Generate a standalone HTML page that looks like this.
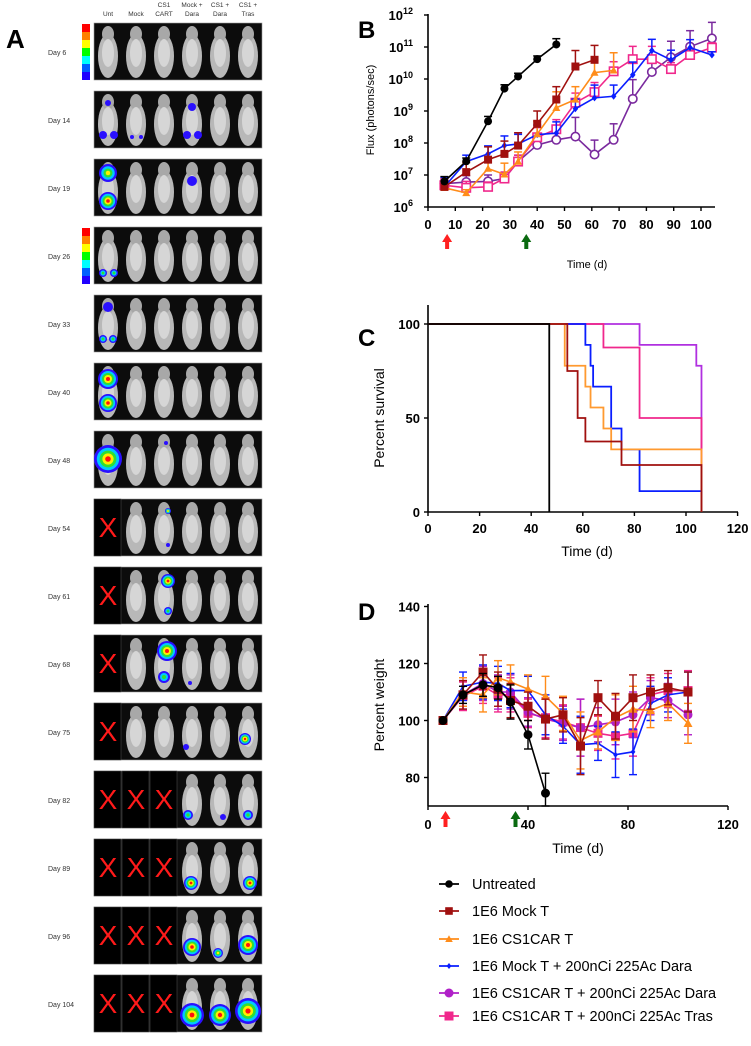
<!DOCTYPE html>
<html><head><meta charset="utf-8"><style>
html,body{margin:0;padding:0;background:#fff;}
svg{display:block;font-family:"Liberation Sans",Arial,sans-serif;}
</style></head><body>
<svg id="fig" width="751" height="1046" viewBox="0 0 751 1046" xmlns="http://www.w3.org/2000/svg">
<rect width="751" height="1046" fill="#fff"/>
<g id="panelA"></g>
<g id="panelB"></g>
<g id="panelC"></g>
<g id="panelD"></g>
<g id="legend"></g>
</svg>
<script>
// ---------- data ----------
const days = [6,14,22,28,33,40,47,54,61,68,75,82,89,96,104];
const seriesNames = ["Untreated","1E6 Mock T","1E6 CS1CAR T","1E6 Mock T + 200nCi 225Ac Dara","1E6 CS1CAR T + 200nCi 225Ac Dara","1E6 CS1CAR T + 200nCi 225Ac Tras"];
// Panel B: log10 flux
const fluxUntreated = [6.8,7.43,8.68,9.7,10.08,10.62,11.08];
const fluxMock = [6.63,7.09,7.48,7.66,7.92,8.6,9.36,10.39,10.6];
const fluxCar = [6.6,6.44,7.2,7.02,7.42,8.28,9.1,9.36,10.2,10.27];
const fluxMockDara = [6.63,7.42,7.66,7.92,7.97,8.26,8.31,9.07,9.41,9.46,10.13,10.89,10.6,10.98,10.75];
const fluxCarDara = [6.73,6.78,6.8,6.89,7.42,7.94,8.1,8.2,7.64,8.1,9.38,10.22,10.68,11.01,11.27];
const fluxCarTras = [6.68,6.6,6.63,6.89,7.42,8.18,8.43,9.26,9.59,10.24,10.62,10.62,10.31,10.75,10.98];
const fluxErrUntreated = [0.15,0.1,0.15,0.12,0.1,0.1,0.18];
const fluxErrMock = [0.2,0.3,0.4,0.4,0.4,0.4,0.4,0.5,0.45];
const fluxErrCar = [0.2,0.1,0.3,0.35,0.3,0.4,0.5,0.4,0.4,0.55];
const fluxErrMockDara = [0.3,0.2,0.25,0.3,0.3,0.3,0.35,0.3,0.4,0.35,0.4,0.35,0.3,0.25,0.1];
const fluxErrCarDara = [0.15,0.2,0.2,0.2,0.2,0.25,0.3,0.6,0.45,0.5,0.6,0.4,0.5,0.5,0.5];
const fluxErrCarTras = [0.2,0.2,0.15,0.2,0.2,0.3,0.3,0.3,0.3,0.3,0.4,0.4,0.2,0.2,0.15];
const bXTicks = [0,10,20,30,40,50,60,70,80,90,100];
const bYTicks = [6,7,8,9,10,11,12];
// Panel C: survival steps [day, percent]
const survUntreated = [[0,100],[47,100],[47,0]];
const survMock = [[0,100],[54,100],[54,75],[58,75],[58,50],[61,50],[61,37.5],[75,37.5],[75,25],[106,25],[106,0]];
const survCar = [[0,100],[53,100],[53,77.8],[61,77.8],[61,66.7],[63,66.7],[63,55.6],[68,55.6],[68,44.4],[71,44.4],[71,33.3],[106,33.3],[106,0]];
const survMockDara = [[0,100],[61,100],[61,88.9],[63,88.9],[63,77.8],[64,77.8],[64,66.7],[71,66.7],[71,44.4],[75,44.4],[75,33.3],[82,33.3],[82,11.1],[106,11.1],[106,0]];
const survCarDara = [[0,100],[82,100],[82,88.9],[104,88.9],[104,77.8],[106,77.8],[106,33.3]];
const survCarTras = [[0,100],[68,100],[68,87.5],[82,87.5],[82,50],[106,50],[106,0]];
const cXTicks = [0,20,40,60,80,100,120];
const cYTicks = [0,50,100];
// Panel D: percent weight
const wtUntreated = [100,109,112.5,111.5,106.5,95,74.5];
const wtMock = [100,109,117,111,107,105,100.5,102,91,108,101.5,108,110,111.5,110];
const wtCar = [100,110,109,115,113.5,111,108.5,102.5,93,96,101,104,103.5,106,99];
const wtMockDara = [100,112,113.5,113,110.5,110.5,102,98,91.5,92,88,89,106,109,110];
const wtCarDara = [100,109,113,110,110,103,100.5,99,97.5,98.5,99.5,102,108,107,102];
const wtCarTras = [100,108.5,112,109,109,102.5,101,99.5,97.5,95.5,94.5,95.5,109,110.5,110.5];
const wtErr = [0,5,6,6,6,5,7,6,10,6,8,8,6,6,7];
const wtErrUntreated = [0,3,4,4,6,5,7];
const dXTicks = [0,40,80,120];
const dYTicks = [80,100,120,140];

const NS="http://www.w3.org/2000/svg";
function mk(parent,tag,attrs,text){const e=document.createElementNS(NS,tag);for(const k in attrs)e.setAttribute(k,attrs[k]);if(text!==undefined)e.textContent=text;parent.appendChild(e);return e;}
const colors=["#000000","#a0100f","#ff8c1a","#0a1eff","#b020c8","#f0288c"];
const colorsB=["#000000","#a0100f","#ff8c1a","#0a1eff","#7a2a9e","#f0288c"];
const colorsC=["#000000","#a0100f","#ff9a30","#0a1eff","#b030e0","#f0288c"];
const markers=["circle","square","triangle","diamond","circle","square"];

function marker(g,type,x,y,r,col,open){
  let e;
  const fill=open?"#fff":col, sw=open?1.6:0;
  if(type==="circle") e=mk(g,"circle",{cx:x,cy:y,r:r,fill:fill,stroke:col,"stroke-width":sw});
  else if(type==="square") e=mk(g,"rect",{x:x-r,y:y-r,width:2*r,height:2*r,fill:fill,stroke:col,"stroke-width":sw});
  else if(type==="triangle") e=mk(g,"polygon",{points:`${x},${y-r} ${x+r},${y+r*0.8} ${x-r},${y+r*0.8}`,fill:fill});
  else e=mk(g,"polygon",{points:`${x},${y-r} ${x+r*0.8},${y} ${x},${y+r} ${x-r*0.8},${y}`,fill:fill});
  
  
  return e;
}

// ---------- Panel A ----------
(function(){
  const g=document.getElementById("panelA");
  mk(g,"text",{x:6,y:48,"font-size":26,"font-weight":"bold",},"A");
  const dayLabels=[6,14,19,26,33,40,48,54,61,68,75,82,89,96,104];
  const heads=[["Unt"],["Mock"],["CS1","CART"],["Mock +","Dara"],["CS1 +","Dara"],["CS1 +","Tras"]];
  const x0=94, cw=28, rh=57, top0=23, step=68;
  heads.forEach((h,i)=>{h.forEach((t,j)=>{mk(g,"text",{x:x0+cw*i+14,y:h.length===1?16:7+j*9,"font-size":6.5,"text-anchor":"middle",fill:"#333",},t);});});
  // X counts per row: number of dead columns from left
  const dead=[0,0,0,0,0,0,0,1,1,1,1,3,3,3,3];
  // heat spots: row, col, dx, dy, radius, intensity(1-4)
  const spots=[[1,0,-5,44,4,1],[1,0,6,44,4,1],[1,0,0,12,3,1],[1,3,0,16,4,1],[1,3,-5,44,4,1],[1,3,6,44,4,1],[1,1,-4,46,2,1],[1,1,5,46,2,1],
   [2,0,0,14,9,3],[2,0,0,42,9,4],[2,3,0,22,5,1],[3,0,-5,46,4,2],[3,0,6,46,4,2],[4,0,0,12,5,1],[4,0,-5,44,4,2],[4,0,5,44,4,2],
   [5,0,0,16,10,4],[5,0,0,40,9,4],[6,0,0,28,14,4],[6,2,2,12,2,1],[7,2,4,12,3,3],[7,2,4,46,2,1],[8,2,4,14,7,4],[8,2,4,44,4,2],
   [9,2,3,16,10,4],[9,2,0,42,6,2],[9,3,-2,48,2,1],[10,3,-6,44,3,1],[10,5,-3,36,6,4],[11,3,-4,44,5,2],[11,4,3,46,3,1],[11,5,0,44,5,2],
   [12,3,-1,44,7,4],[12,5,2,44,7,4],[13,3,0,40,9,4],[13,4,-2,46,5,3],[13,5,0,38,10,4],[14,3,0,40,12,4],[14,4,0,40,11,4],[14,5,0,36,13,4]];
  const heat=["#2a10ff","#00c8ff","#30e030","#ffee00","#ff1010"];
  dayLabels.forEach((d,r)=>{
    const t=top0+step*r;
    mk(g,"text",{x:48,y:t+32,"font-size":7,fill:"#333",},"Day "+d);
    const row=mk(g,"g",{});
    mk(row,"rect",{x:x0,y:t,width:cw*6,height:rh,fill:"#0c0c0c",stroke:"#999","stroke-width":0.6});
    for(let c=0;c<6;c++){
      const cx=x0+cw*c+14;
      if(c<dead[r]){
        mk(row,"rect",{x:x0+cw*c,y:t,width:cw-1,height:rh,fill:"#000",stroke:"#555","stroke-width":0.5});
        mk(row,"text",{x:cx,y:t+38,"font-size":28,fill:"#ff1a1a","text-anchor":"middle",},"X");
      } else {
        const m=mk(row,"g",{});
        mk(m,"ellipse",{cx:cx,cy:t+33,rx:10,ry:22,fill:"#b8b8b8"});
        mk(m,"ellipse",{cx:cx,cy:t+11,rx:6,ry:8,fill:"#a8a8a8"});
        mk(m,"ellipse",{cx:cx,cy:t+30,rx:6,ry:14,fill:"#d6d6d6"});
      }
    }
    spots.filter(s=>s[0]===r).forEach(s=>{
      const cx=x0+cw*s[1]+14+s[2], cy=t+s[3];
      for(let k=0;k<=s[5];k++){
        mk(row,"circle",{cx:cx,cy:cy,r:Math.max(1,s[4]*(1-k/(s[5]+1))),fill:heat[s[5]===1?0:k]});
      }
    });
  });
  // color bars
  [0,3].forEach(r=>{
    const t=top0+step*r;
    const grad=["#ff0000","#ff8000","#ffff00","#00ff00","#00ffff","#0060ff","#2000ff"];
    grad.forEach((c,i)=>mk(g,"rect",{x:82,y:t+1+i*8,width:8,height:8,fill:c,}));
  });
})();

// ---------- Panel B ----------
(function(){
  const g=document.getElementById("panelB");
  const xB=d=>428+2.73*d, yB=l=>207-32*(l-6);
  mk(g,"text",{x:358,y:38,"font-size":24,"font-weight":"bold",},"B");
  mk(g,"line",{x1:428,y1:14,x2:428,y2:207,stroke:"#000","stroke-width":1.6,});
  mk(g,"line",{x1:428,y1:207,x2:715,y2:207,stroke:"#000","stroke-width":1.6,});
  bYTicks.forEach(v=>{
    mk(g,"line",{x1:424,y1:yB(v),x2:428,y2:yB(v),stroke:"#000","stroke-width":1.4});
    const t=mk(g,"text",{x:413,y:yB(v)+5,"font-size":13,"font-weight":"bold","text-anchor":"end",},"10");
    mk(t,"tspan",{dy:-6,"font-size":9},String(v));
  });
  bXTicks.forEach(v=>{
    mk(g,"line",{x1:xB(v),y1:207,x2:xB(v),y2:211,stroke:"#000","stroke-width":1.4});
    mk(g,"text",{x:xB(v),y:229,"font-size":13,"font-weight":"bold","text-anchor":"middle",},String(v));
  });
  mk(g,"text",{x:374,y:110,"font-size":11,"text-anchor":"middle",transform:"rotate(-90 374 110)",},"Flux (photons/sec)");
  mk(g,"text",{x:587,y:268,"font-size":11,"text-anchor":"middle",},"Time (d)");
  // arrows
  [[7,"#ff2020","red-arrow"],[36,"#0a6a10","green-arrow"]].forEach(a=>{
    const x=xB(a[0]);
    mk(g,"polygon",{points:`${x},234 ${x+5},242 ${x+2},242 ${x+2},249 ${x-2},249 ${x-2},242 ${x-5},242`,fill:a[1],});
  });
  const sets=[[fluxUntreated,fluxErrUntreated],[fluxMock,fluxErrMock],[fluxCar,fluxErrCar],[fluxMockDara,fluxErrMockDara],[fluxCarDara,fluxErrCarDara],[fluxCarTras,fluxErrCarTras]];
  const order=[4,5,3,2,1,0];
  order.forEach(i=>{
    const [vals,err]=sets[i]; const col=colorsB[i];
    const sg=mk(g,"g",{});
    vals.forEach((v,k)=>{const x=xB(days[k]);const y2=yB(v+err[k]);
      mk(sg,"line",{x1:x,y1:yB(v),x2:x,y2:y2,stroke:col,"stroke-width":1.5});
      mk(sg,"line",{x1:x-4,y1:y2,x2:x+4,y2:y2,stroke:col,"stroke-width":1.5});});
    mk(sg,"polyline",{points:vals.map((v,k)=>xB(days[k])+","+yB(v)).join(" "),fill:"none",stroke:col,"stroke-width":1.6});
    vals.forEach((v,k)=>marker(sg,markers[i],xB(days[k]),yB(v),i===3?3.5:(i>=4?4.2:4),col,i>=4));
  });
})();

// ---------- Panel C ----------
(function(){
  const g=document.getElementById("panelC");
  const xC=d=>428+2.58*d, yC=p=>512-1.88*p;
  mk(g,"text",{x:358,y:346,"font-size":24,"font-weight":"bold",},"C");
  mk(g,"line",{x1:428,y1:305,x2:428,y2:512,stroke:"#000","stroke-width":1.6,});
  mk(g,"line",{x1:428,y1:512,x2:738,y2:512,stroke:"#000","stroke-width":1.6,});
  cYTicks.forEach(v=>{
    mk(g,"line",{x1:424,y1:yC(v),x2:428,y2:yC(v),stroke:"#000","stroke-width":1.4});
    mk(g,"text",{x:420,y:yC(v)+5,"font-size":13,"font-weight":"bold","text-anchor":"end",},String(v));
  });
  cXTicks.forEach(v=>{
    mk(g,"line",{x1:xC(v),y1:512,x2:xC(v),y2:516,stroke:"#000","stroke-width":1.4});
    mk(g,"text",{x:xC(v),y:533,"font-size":13,"font-weight":"bold","text-anchor":"middle",},String(v));
  });
  mk(g,"text",{x:384,y:418,"font-size":14,"text-anchor":"middle",transform:"rotate(-90 384 418)",},"Percent survival");
  mk(g,"text",{x:587,y:556,"font-size":14,"text-anchor":"middle",},"Time (d)");
  const sets=[survUntreated,survMock,survCar,survMockDara,survCarDara,survCarTras];
  [4,5,3,2,1,0].forEach(i=>{
    const p=mk(g,"polyline",{points:sets[i].map(s=>xC(s[0])+","+yC(s[1])).join(" "),fill:"none",stroke:colorsC[i],"stroke-width":1.8});
    
    
  });
})();

// ---------- Panel D ----------
(function(){
  const g=document.getElementById("panelD");
  const xD=d=>428+2.5*d, yD=v=>806-2.85*(v-70);
  mk(g,"text",{x:358,y:620,"font-size":24,"font-weight":"bold",},"D");
  mk(g,"line",{x1:428,y1:604,x2:428,y2:806,stroke:"#000","stroke-width":1.6,});
  mk(g,"line",{x1:428,y1:806,x2:728,y2:806,stroke:"#000","stroke-width":1.6,});
  dYTicks.forEach(v=>{
    mk(g,"line",{x1:424,y1:yD(v),x2:428,y2:yD(v),stroke:"#000","stroke-width":1.4});
    mk(g,"text",{x:420,y:yD(v)+5,"font-size":13,"font-weight":"bold","text-anchor":"end",},String(v));
  });
  dXTicks.forEach(v=>{
    mk(g,"line",{x1:xD(v),y1:806,x2:xD(v),y2:810,stroke:"#000","stroke-width":1.4});
    mk(g,"text",{x:xD(v),y:829,"font-size":13,"font-weight":"bold","text-anchor":"middle",},String(v));
  });
  mk(g,"text",{x:384,y:705,"font-size":14,"text-anchor":"middle",transform:"rotate(-90 384 705)",},"Percent weight");
  mk(g,"text",{x:578,y:853,"font-size":14,"text-anchor":"middle",},"Time (d)");
  [[7,"#ff2020","red-arrow"],[35,"#0a6a10","green-arrow"]].forEach(a=>{
    const x=xD(a[0]);
    mk(g,"polygon",{points:`${x},811 ${x+5},819 ${x+2},819 ${x+2},827 ${x-2},827 ${x-2},819 ${x-5},819`,fill:a[1],});
  });
  const sets=[wtUntreated,wtMock,wtCar,wtMockDara,wtCarDara,wtCarTras];
  [5,4,3,2,1,0].forEach(i=>{
    const vals=sets[i], col=colors[i], err=i===0?wtErrUntreated:wtErr;
    const sg=mk(g,"g",{});
    vals.forEach((v,k)=>{const x=xD(days[k]);
      const ya=yD(v+err[k]), yb=Math.min(806,yD(v-err[k]));
      mk(sg,"line",{x1:x,y1:ya,x2:x,y2:yb,stroke:col,"stroke-width":1.4});
      mk(sg,"line",{x1:x-4,y1:ya,x2:x+4,y2:ya,stroke:col,"stroke-width":1.4});
      mk(sg,"line",{x1:x-4,y1:yb,x2:x+4,y2:yb,stroke:col,"stroke-width":1.4});});
    mk(sg,"polyline",{points:vals.map((v,k)=>xD(days[k])+","+yD(v)).join(" "),fill:"none",stroke:col,"stroke-width":1.6});
    vals.forEach((v,k)=>marker(sg,markers[i],xD(days[k]),yD(v),i===3?3:4.5,col,false));
  });
})();

// ---------- Legend ----------
(function(){
  const g=document.getElementById("legend");
  const ys=[884,911,939,966,993,1016];
  seriesNames.forEach((n,i)=>{
    const e=mk(g,"g",{});
    
    
    mk(e,"line",{x1:439,y1:ys[i],x2:459,y2:ys[i],stroke:colors[i],"stroke-width":1.8});
    marker(e,markers[i],449,ys[i],i===3?3:(i>=4?4.5:3.8),colors[i],false);
    mk(e,"text",{x:472,y:ys[i]+5,"font-size":14.5,fill:"#000"},n);
  });
})();
</script>
</body></html>
